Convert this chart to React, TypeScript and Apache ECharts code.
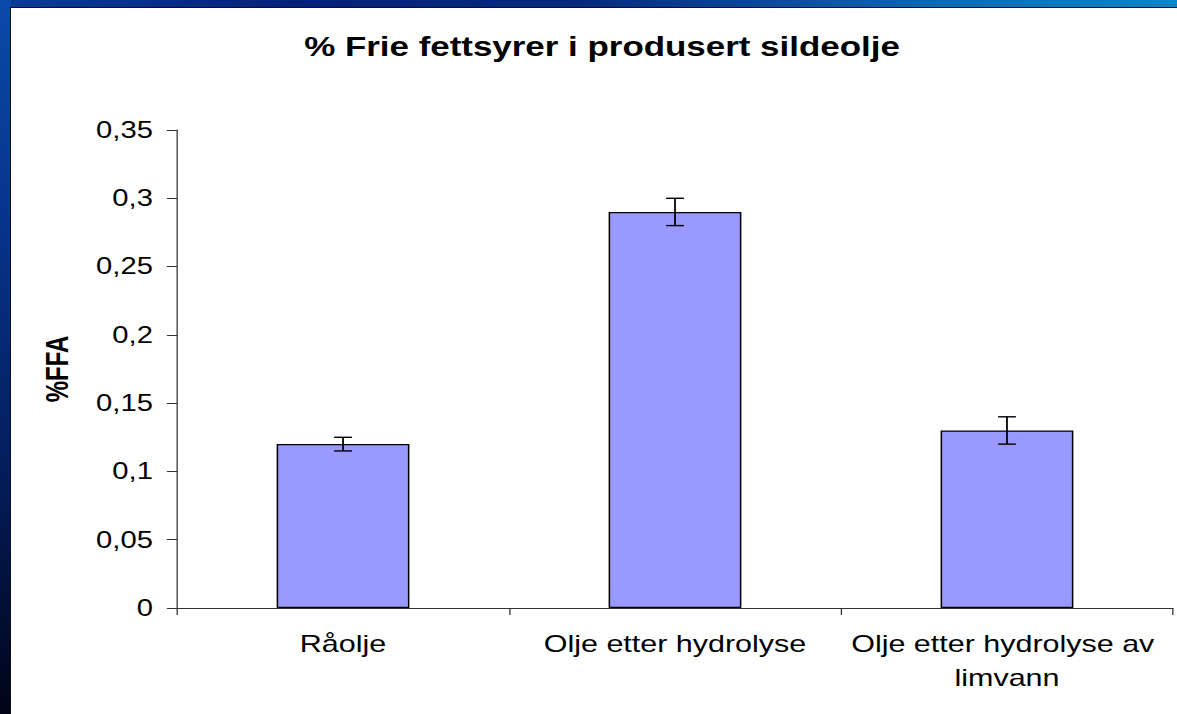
import React, { useEffect, useRef } from "react";
import * as echarts from "echarts";

const categories = ["Råolje", "Olje etter hydrolyse", "Olje etter hydrolyse av limvann"];
const values = [0.12, 0.29, 0.13];
const errors = [0.005, 0.01, 0.01];
const titleText = "% Frie fettsyrer i produsert sildeolje";
const yName = "%FFA";

const SX = 1.27;
const FONT = "'Liberation Sans', Arial, sans-serif";

export default function App() {
  const ref = useRef<HTMLDivElement>(null);
  useEffect(() => {
    if (!ref.current) return;
    const chart = echarts.init(ref.current, undefined, { renderer: "svg" });
    chart.setOption({
      animation: false,
      backgroundColor: "transparent",
      textStyle: { fontFamily: FONT },
      graphic: [
        {
          type: "text",
          x: 474,
          y: 47,
          style: {
            text: titleText,
            fontFamily: FONT,
            fontSize: 27.5,
            fontWeight: "bold",
            fill: "#000",
            textAlign: "center",
            textVerticalAlign: "middle",
          },
        },
      ],
      grid: { left: 139.4, right: 3.4, top: 130, bottom: 106, containLabel: false },
      xAxis: {
        type: "category",
        data: categories,
        axisLine: { lineStyle: { color: "#333", width: 1 } },
        axisTick: { show: true, length: 7, lineStyle: { color: "#333" } },
        axisLabel: {
          interval: 0,
          margin: 19,
          fontSize: 24,
          lineHeight: 34,
          color: "#000",
          fontFamily: FONT,
          width: 255,
          overflow: "break",
        },
      },
      yAxis: {
        type: "value",
        min: 0,
        max: 0.35,
        interval: 0.05,
        name: yName,
        nameLocation: "middle",
        nameGap: 82,
        nameTextStyle: { fontSize: 24, fontWeight: "bold", color: "#000", fontFamily: FONT },
        axisLine: { show: true, lineStyle: { color: "#333", width: 1 } },
        axisTick: { show: true, length: 8, lineStyle: { color: "#333" } },
        splitLine: { show: false },
        axisLabel: {
          margin: 19,
          fontSize: 23,
          color: "#000",
          fontFamily: FONT,
          formatter: (v: number) => String(v).replace(".", ","),
        },
      },
      series: [
        {
          type: "bar",
          data: values,
          barWidth: "40%",
          itemStyle: { color: "#9999FF", borderColor: "#000", borderWidth: 1.2 },
          z: 2,
        },
        {
          type: "custom",
          data: categories.map((_, i) => [i, values[i], errors[i]]),
          z: 3,
          renderItem: (params: any, api: any) => {
            const x = api.value(0);
            const y = api.value(1);
            const e = api.value(2);
            const top = api.coord([x, y + e]);
            const bot = api.coord([x, y - e]);
            const w = 7;
            const st = { stroke: "#000", lineWidth: 1.4 };
            return {
              type: "group",
              children: [
                { type: "line", shape: { x1: top[0], y1: top[1], x2: bot[0], y2: bot[1] }, style: st },
                { type: "line", shape: { x1: top[0] - w, y1: top[1], x2: top[0] + w, y2: top[1] }, style: st },
                { type: "line", shape: { x1: bot[0] - w, y1: bot[1], x2: bot[0] + w, y2: bot[1] }, style: st },
              ],
            };
          },
        },
      ],
    });
    return () => chart.dispose();
  }, []);

  return (
    <div
      style={{
        position: "fixed",
        left: 0,
        top: 0,
        width: 1177,
        height: 714,
        overflow: "hidden",
        background: "#fff",
      }}
    >
      <div
        style={{
          position: "absolute",
          left: 0,
          top: 0,
          width: 1177,
          height: 8,
          background: "linear-gradient(90deg, #0a3d96 0%, #05207a 25%, #062a80 50%, #0a6ab5 80%, #0a86c8 100%)",
        }}
      />
      <div
        style={{
          position: "absolute",
          left: 0,
          top: 0,
          width: 11,
          height: 714,
          background: "linear-gradient(180deg, #0a4aa8 0%, #07348c 30%, #041e5c 65%, #010418 100%)",
        }}
      />
      <div
        style={{
          position: "absolute",
          left: 10,
          top: 7,
          width: 1167,
          height: 707,
          background: "#fff",
          borderLeft: "1px solid #111",
          borderTop: "1px solid #111",
          boxSizing: "border-box",
        }}
      />
      <div
        ref={ref}
        style={{
          position: "absolute",
          left: 0,
          top: 0,
          width: 927,
          height: 714,
          transform: `scaleX(${SX})`,
          transformOrigin: "0 0",
        }}
      />
    </div>
  );
}
